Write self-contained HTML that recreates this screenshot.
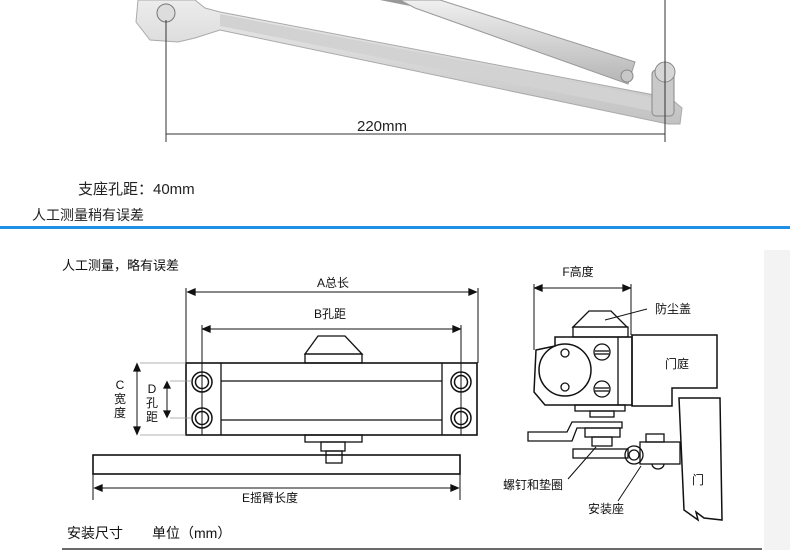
<!DOCTYPE html>
<html><head><meta charset="utf-8"><style>
body{margin:0;background:#fff;}
svg{display:block;font-family:"Liberation Sans","Noto Sans CJK SC",sans-serif;}
</style></head><body>
<svg width="790" height="550" viewBox="0 0 790 550" xmlns="http://www.w3.org/2000/svg">
<rect width="790" height="550" fill="#fff"/>
<defs><linearGradient id="g" x1="0" y1="0" x2="0" y2="1"><stop offset="0" stop-color="#ececec"/><stop offset="1" stop-color="#c2c2c2"/></linearGradient>
<linearGradient id="r" x1="0" y1="0" x2="0" y2="1"><stop offset="0" stop-color="#f0f0f0"/><stop offset="1" stop-color="#b5b5b5"/></linearGradient></defs>
<!-- lower arm -->
<polygon points="138,0 195,0 205,8 220,12 670,98 682,108 680,124 668,124 220,30 195,38 178,42 150,40 136,22" fill="url(#g)" stroke="#aaa" stroke-width="1"/>
<polygon points="220,14 665,100 672,115 220,26" fill="#d2d2d2"/>
<!-- rod -->
<polygon points="400,0 440,0 635,62 628,84 415,8" fill="url(#r)" stroke="#9a9a9a"/>
<polygon points="380,0 400,0 410,6" fill="#999"/>
<circle cx="627" cy="76" r="6" fill="#c8c8c8" stroke="#888"/>
<rect x="652" y="70" width="22" height="46" rx="4" fill="#c9c9c9" stroke="#888"/>
<circle cx="665" cy="72" r="10" fill="#d6d6d6" stroke="#888"/>
<circle cx="166" cy="13" r="9" fill="#ddd" stroke="#777"/>
<!-- dimension -->
<line x1="166" y1="20" x2="166" y2="142" stroke="#333"/>
<line x1="665" y1="0" x2="665" y2="142" stroke="#333"/>
<line x1="166" y1="134" x2="665" y2="134" stroke="#333"/>
<text x="382" y="131" font-size="15" text-anchor="middle" fill="#222">220mm</text>
<text x="78" y="194" font-size="15" fill="#222">支座孔距：40mm</text>
<text x="32" y="220" font-size="14" fill="#222">人工测量稍有误差</text>
<rect x="0" y="226" width="790" height="3" fill="#1e90e6"/>
<rect x="764" y="250" width="26" height="300" fill="#f3f3f3"/>

<g stroke="#111" fill="none" stroke-width="1.3">
<text x="62" y="270" font-size="13" fill="#111" stroke="none">人工测量，略有误差</text>
<line x1="186" y1="288" x2="186" y2="363" stroke-width="1"/>
<line x1="478" y1="288" x2="478" y2="363" stroke-width="1"/>
<line x1="189" y1="292" x2="475" y2="292" stroke-width="1"/>
<polygon points="188,292 195,289 195,295" fill="#111"/><polygon points="476,292 469,289 469,295" fill="#111"/>
<text x="333" y="287" font-size="12" fill="#111" stroke="none" text-anchor="middle">A总长</text>
<line x1="202" y1="325" x2="202" y2="435" stroke-width="1"/>
<line x1="461" y1="325" x2="461" y2="435" stroke-width="1"/>
<line x1="204" y1="329" x2="459" y2="329" stroke-width="1"/>
<polygon points="203,329 210,326 210,332" fill="#111"/><polygon points="460,329 453,326 453,332" fill="#111"/>
<text x="330" y="318" font-size="12" fill="#111" stroke="none" text-anchor="middle">B孔距</text>
<polygon points="305,354 318,336 345,336 362,354"/>
<rect x="305" y="354" width="57" height="9"/>
<rect x="186" y="363" width="291" height="72" stroke-width="1.6"/>
<line x1="221" y1="363" x2="221" y2="435"/><line x1="442" y1="363" x2="442" y2="435"/>
<line x1="221" y1="381" x2="442" y2="381"/><line x1="221" y1="420" x2="442" y2="420"/>
<g stroke-width="1.5">
<circle cx="202" cy="382" r="10"/><circle cx="202" cy="382" r="6.5"/>
<circle cx="202" cy="418" r="10"/><circle cx="202" cy="418" r="6.5"/>
<circle cx="461" cy="382" r="10"/><circle cx="461" cy="382" r="6.5"/>
<circle cx="461" cy="418" r="10"/><circle cx="461" cy="418" r="6.5"/>
</g>
<rect x="305" y="435" width="57" height="7"/>
<rect x="321" y="442" width="24" height="9"/>
<rect x="326" y="451" width="16" height="12"/>
<rect x="93" y="455" width="367" height="19" stroke-width="1.6"/>
<line x1="93" y1="474" x2="93" y2="500" stroke-width="1"/>
<line x1="460" y1="474" x2="460" y2="500" stroke-width="1"/>
<line x1="96" y1="488" x2="457" y2="488" stroke-width="1"/>
<polygon points="95,488 102,485 102,491" fill="#111"/><polygon points="458,488 451,485 451,491" fill="#111"/>
<text x="270" y="502" font-size="12" fill="#111" stroke="none" text-anchor="middle">E摇臂长度</text>
<line x1="140" y1="363" x2="186" y2="363" stroke="#999" stroke-width="0.8"/>
<line x1="140" y1="435" x2="186" y2="435" stroke="#999" stroke-width="0.8"/>
<line x1="170" y1="381" x2="192" y2="381" stroke="#999" stroke-width="0.8"/>
<line x1="170" y1="418" x2="192" y2="418" stroke="#999" stroke-width="0.8"/>
<line x1="137" y1="366" x2="137" y2="432" stroke-width="1"/>
<polygon points="137,364 134,371 140,371" fill="#111"/><polygon points="137,434 134,427 140,427" fill="#111"/>
<line x1="167" y1="383" x2="167" y2="416" stroke-width="1"/>
<polygon points="167,382 164,388 170,388" fill="#111"/><polygon points="167,417 164,411 170,411" fill="#111"/>
<g fill="#111" stroke="none" font-size="12" text-anchor="middle">
<text x="120" y="389">C</text><text x="120" y="403">宽</text><text x="120" y="417">度</text>
<text x="152" y="393">D</text><text x="152" y="407">孔</text><text x="152" y="421">距</text>
</g>
<text x="67" y="538" font-size="14" fill="#111" stroke="none">安装尺寸</text>
<text x="152" y="538" font-size="14" fill="#111" stroke="none">单位（mm）</text>
<line x1="62" y1="549" x2="762" y2="549"/>

<line x1="534" y1="284" x2="534" y2="350" stroke-width="1"/>
<line x1="631" y1="284" x2="631" y2="335" stroke-width="1"/>
<line x1="536" y1="288" x2="629" y2="288" stroke-width="1"/>
<polygon points="535,288 542,285 542,291" fill="#111"/><polygon points="630,288 623,285 623,291" fill="#111"/>
<text x="578" y="276" font-size="12" fill="#111" stroke="none" text-anchor="middle">F高度</text>
<polygon points="573,327 589,311 611,311 627,327"/>
<rect x="573" y="327" width="55" height="10"/>
<path d="M555,337 L555,346 L536,350 L534,392 L545,405 L632,405 L632,337 Z" stroke-width="1.5"/>
<line x1="618" y1="337" x2="618" y2="405"/>
<circle cx="565" cy="370" r="26" stroke-width="1.5"/>
<circle cx="565" cy="353" r="4"/><circle cx="565" cy="387" r="4"/>
<circle cx="602" cy="352" r="8"/><line x1="595" y1="351" x2="609" y2="351"/><line x1="595" y1="354" x2="609" y2="354"/>
<circle cx="602" cy="389" r="8"/><line x1="595" y1="388" x2="609" y2="388"/><line x1="595" y1="391" x2="609" y2="391"/>
<polygon points="632,335 717,335 717,388 672,388 672,406 632,406" stroke-width="1.5"/>
<text x="665" y="368" font-size="12" fill="#111" stroke="none">门庭</text>
<rect x="575" y="405" width="50" height="6"/>
<rect x="590" y="411" width="24" height="6"/>
<path d="M528,432 L567,432 L572,422 L622,422 L622,428 L577,428 L572,441 L528,441 Z"/>
<rect x="585" y="428" width="35" height="9"/>
<rect x="592" y="437" width="20" height="9"/>
<rect x="573" y="449" width="55" height="9"/>
<circle cx="634" cy="455" r="9"/><circle cx="634" cy="455" r="5"/>
<rect x="640" y="442" width="40" height="22"/>
<rect x="646" y="434" width="18" height="8"/>
<path d="M652,464 a6,5 0 0 0 12,0"/>
<polygon points="679,398 720,398 722,520 704,518 696,512 698,520 684,510" stroke-width="1.5"/>
<text x="692" y="484" font-size="12" fill="#111" stroke="none">门</text>
<text x="655" y="313" font-size="12" fill="#111" stroke="none">防尘盖</text>
<line x1="605" y1="320" x2="647" y2="309" stroke-width="1"/>
<line x1="568" y1="479" x2="596" y2="447" stroke-width="1"/>
<text x="503" y="489" font-size="12" fill="#111" stroke="none">螺钉和垫圈</text>
<line x1="618" y1="501" x2="641" y2="466" stroke-width="1"/>
<text x="588" y="513" font-size="12" fill="#111" stroke="none">安装座</text>
</g>
</svg>
</body></html>
